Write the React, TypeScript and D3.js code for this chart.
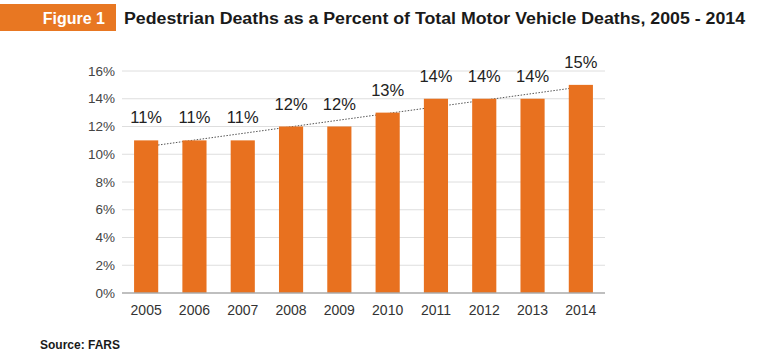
import React, { useRef, useEffect } from "react";
import * as d3 from "d3";

const years = ["2005", "2006", "2007", "2008", "2009", "2010", "2011", "2012", "2013", "2014"];
const pctValues = [11, 11, 11, 12, 12, 13, 14, 14, 14, 15];
const yTicks = [0, 2, 4, 6, 8, 10, 12, 14, 16];

const ORANGE = "#E8711F";
const FONT = "'Liberation Sans', Arial, Helvetica, sans-serif";

const App = () => {
  const svgRef = useRef<SVGSVGElement>(null);

  useEffect(() => {
    const svg = d3.select(svgRef.current);
    svg.selectAll("*").remove();

    const width = 768;
    const height = 364;
    const margin = { top: 71, right: 163, bottom: 71, left: 122 };

    svg.append("rect").attr("width", width).attr("height", height).attr("fill", "#fff");

    // header banner
    svg.append("rect").attr("x", 0).attr("y", 4).attr("width", 116).attr("height", 27).attr("fill", "#E87722");
    svg
      .append("text")
      .attr("x", 105)
      .attr("y", 24)
      .attr("text-anchor", "end")
      .attr("font-family", FONT)
      .attr("font-weight", "bold")
      .attr("font-size", "16px")
      .attr("fill", "#fff")
      .text("Figure 1");
    svg
      .append("text")
      .attr("x", 124)
      .attr("y", 24)
      .attr("font-family", FONT)
      .attr("font-weight", "bold")
      .attr("font-size", "16px")
      .attr("fill", "#1a1a1a")
      .attr("textLength", 621)
      .attr("lengthAdjust", "spacingAndGlyphs")
      .text("Pedestrian Deaths as a Percent of Total Motor Vehicle Deaths, 2005 - 2014");

    // scales
    const x = d3.scaleBand().domain(years).range([margin.left, width - margin.right]).paddingInner(0.5).paddingOuter(0.25);
    const y = d3.scaleLinear().domain([0, 16]).range([height - margin.bottom, margin.top]);

    // gridlines
    svg
      .append("g")
      .selectAll("line")
      .data(yTicks.filter((t) => t > 0))
      .join("line")
      .attr("x1", margin.left)
      .attr("x2", width - margin.right)
      .attr("y1", (d) => y(d))
      .attr("y2", (d) => y(d))
      .attr("stroke", "#dedede")
      .attr("stroke-width", 1);

    // y tick labels
    svg
      .append("g")
      .selectAll("text")
      .data(yTicks)
      .join("text")
      .attr("x", margin.left - 7)
      .attr("y", (d) => y(d))
      .attr("dy", "0.35em")
      .attr("text-anchor", "end")
      .attr("font-family", FONT)
      .attr("font-size", "13.5px")
      .attr("fill", "#444")
      .text((d) => `${d}%`);

    // linear trend line (behind bars)
    const n = pctValues.length;
    const mx = d3.mean(d3.range(n)) as number;
    const my = d3.mean(pctValues) as number;
    const slope =
      d3.sum(pctValues, (v, i) => (i - mx) * (v - my)) / d3.sum(d3.range(n), (i) => (i - mx) * (i - mx));
    const icpt = my - slope * mx;
    const cx = (i: number) => (x(years[i]) as number) + x.bandwidth() / 2;
    svg
      .append("line")
      .attr("x1", cx(0))
      .attr("x2", cx(n - 1))
      .attr("y1", y(icpt))
      .attr("y2", y(icpt + slope * (n - 1)))
      .attr("stroke", "#555")
      .attr("stroke-width", 1)
      .attr("stroke-dasharray", "1.5,1.5");

    // bars
    svg
      .append("g")
      .selectAll("rect")
      .data(pctValues)
      .join("rect")
      .attr("x", (d, i) => x(years[i]) as number)
      .attr("y", (d) => y(d))
      .attr("width", x.bandwidth())
      .attr("height", (d) => y(0) - y(d))
      .attr("fill", ORANGE);

    // baseline
    svg
      .append("line")
      .attr("x1", margin.left)
      .attr("x2", width - margin.right)
      .attr("y1", y(0))
      .attr("y2", y(0))
      .attr("stroke", "#aaa")
      .attr("stroke-width", 1.5);

    // value labels
    svg
      .append("g")
      .selectAll("text")
      .data(pctValues)
      .join("text")
      .attr("x", (d, i) => cx(i))
      .attr("y", (d) => y(d) - 17)
      .attr("text-anchor", "middle")
      .attr("font-family", FONT)
      .attr("font-size", "16.5px")
      .attr("fill", "#222")
      .text((d) => `${d}%`);

    // x labels
    svg
      .append("g")
      .selectAll("text")
      .data(years)
      .join("text")
      .attr("x", (d, i) => cx(i))
      .attr("y", y(0) + 22)
      .attr("text-anchor", "middle")
      .attr("font-family", FONT)
      .attr("font-size", "14px")
      .attr("fill", "#333")
      .text((d) => d);

    // source
    svg
      .append("text")
      .attr("x", 40)
      .attr("y", 349)
      .attr("font-family", FONT)
      .attr("font-weight", "bold")
      .attr("font-size", "12px")
      .attr("fill", "#1a1a1a")
      .text("Source: FARS");
  }, []);

  return (
    <div style={{ position: "absolute", left: 0, top: 0 }}>
      <svg ref={svgRef} width={768} height={364} style={{ display: "block" }}></svg>
    </div>
  );
};

export default App;
